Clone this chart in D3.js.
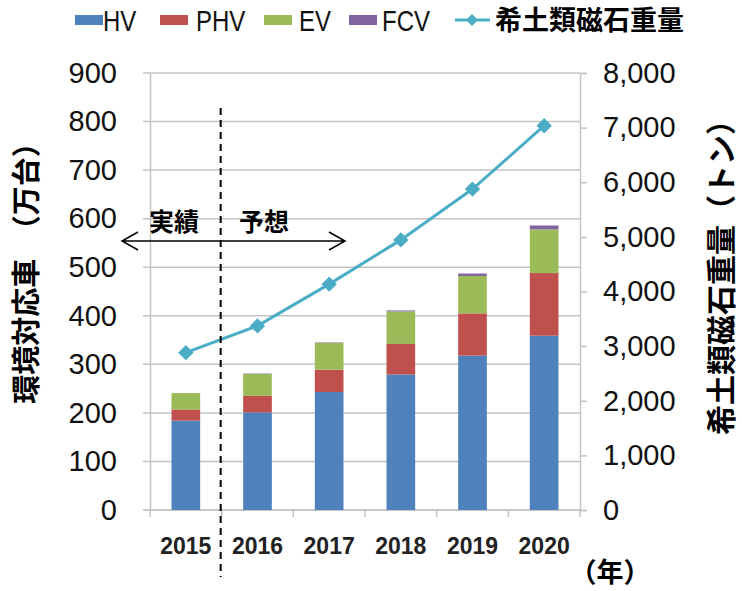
<!DOCTYPE html>
<html>
<head>
<meta charset="utf-8">
<script src="https://cdn.jsdelivr.net/npm/d3@7"></script>
<style>
  body { margin: 0; background: #fff; }
  svg { font-family: "Liberation Sans", Arial, sans-serif; }
  .jp { font-family: "Noto Sans CJK JP", sans-serif; font-weight: 700; }
</style>
</head>
<body>
<div class="chart"></div>
<script>
// ===== data =====
const years = ['2015', '2016', '2017', '2018', '2019', '2020']
const hv  = [184, 201, 243, 279, 318, 359]
const phv = [23, 34, 46, 63, 87, 129]
const ev  = [34, 45, 55, 67, 77, 90]
const fcv = [0, 1, 1, 2, 5, 8]
const magnet = [2880, 3370, 4135, 4945, 5875, 7035]   // トン
const leftTicks = [0, 100, 200, 300, 400, 500, 600, 700, 800, 900]
const rightTicks = [0, 1000, 2000, 3000, 4000, 5000, 6000, 7000, 8000]

const series = [
  {key: 'HV',  values: hv,  color: '#4f81bd'},
  {key: 'PHV', values: phv, color: '#c0504d'},
  {key: 'EV',  values: ev,  color: '#9bbb59'},
  {key: 'FCV', values: fcv, color: '#8064a2'}
]
const lineColor = '#4bacc6'

const W = 742, H = 591
const plot = {left: 150, right: 580, top: 73, bottom: 510}

const svg = d3.select('.chart')
  .append('svg')
    .attr('width', W)
    .attr('height', H)

const x = d3.scaleBand()
  .domain(years)
  .range([plot.left, plot.right])
  .paddingInner(0.6)
  .paddingOuter(0.3)
const xOuter = d3.scaleBand().domain(years).range([plot.left, plot.right])

const yL = d3.scaleLinear().domain([0, 900]).range([plot.bottom, plot.top])
const yR = d3.scaleLinear().domain([0, 8000]).range([plot.bottom, plot.top])

// grid
svg.append('g')
  .selectAll('line')
  .data(leftTicks)
  .join('line')
    .attr('x1', plot.left - 7)
    .attr('x2', plot.right)
    .attr('y1', d => yL(d))
    .attr('y2', d => yL(d))
    .attr('stroke', '#c4c4c4')
    .attr('stroke-width', 1.5)

// left axis
const gL = svg.append('g')
  .attr('transform', `translate(${plot.left}, 0)`)
  .call(d3.axisLeft(yL).tickValues(leftTicks).tickSize(0).tickPadding(33))
gL.select('.domain').attr('stroke', '#c4c4c4').attr('stroke-width', 1.5)
gL.selectAll('text').attr('font-size', 29).attr('fill', '#111')

// right axis
const gR = svg.append('g')
  .attr('transform', `translate(${plot.right}, 0)`)
  .call(d3.axisRight(yR).tickValues(rightTicks).tickSize(7).tickPadding(16)
    .tickFormat(d3.format(',')))
gR.select('.domain').attr('stroke', '#c4c4c4').attr('stroke-width', 1.5)
gR.selectAll('line').attr('stroke', '#c4c4c4').attr('stroke-width', 1.5)
gR.selectAll('text').attr('font-size', 29).attr('fill', '#111')

// bottom axis
svg.append('line')
  .attr('x1', plot.left - 7).attr('x2', plot.right)
  .attr('y1', plot.bottom).attr('y2', plot.bottom)
  .attr('stroke', '#c4c4c4').attr('stroke-width', 1.5)
svg.append('g')
  .selectAll('line')
  .data(years.concat(['end']))
  .join('line')
    .attr('x1', (d, i) => plot.left + i * xOuter.step())
    .attr('x2', (d, i) => plot.left + i * xOuter.step())
    .attr('y1', plot.bottom)
    .attr('y2', plot.bottom + 7)
    .attr('stroke', '#c4c4c4')
    .attr('stroke-width', 1.5)
svg.append('g')
  .selectAll('text')
  .data(years)
  .join('text')
    .attr('x', d => xOuter(d) + xOuter.bandwidth() / 2)
    .attr('y', 554)
    .attr('text-anchor', 'middle')
    .attr('font-size', 23)
    .attr('font-weight', 700)
    .attr('fill', '#222')
    .text(d => d)

// stacked bars
const table = years.map((y, i) => {
  const row = {year: y}
  series.forEach(s => { row[s.key] = s.values[i] })
  return row
})
const stacked = d3.stack().keys(series.map(s => s.key))(table)

svg.append('g')
  .selectAll('g')
  .data(stacked)
  .join('g')
    .attr('fill', (d, i) => series[i].color)
  .selectAll('rect')
  .data(d => d)
  .join('rect')
    .attr('x', d => x(d.data.year))
    .attr('width', x.bandwidth())
    .attr('y', d => yL(d[1]))
    .attr('height', d => yL(d[0]) - yL(d[1]))

// magnet line
const cx = d => xOuter(d) + xOuter.bandwidth() / 2
svg.append('path')
  .datum(magnet)
  .attr('fill', 'none')
  .attr('stroke', lineColor)
  .attr('stroke-width', 3)
  .attr('d', d3.line().x((d, i) => cx(years[i])).y(d => yR(d)))

const diamond = d3.symbol().type(d3.symbolDiamond2).size(150)
svg.append('g')
  .selectAll('path')
  .data(magnet)
  .join('path')
    .attr('transform', (d, i) => `translate(${cx(years[i])}, ${yR(d)})`)
    .attr('d', diamond)
    .attr('fill', lineColor)

// dashed divider between 実績 and 予想
const divX = plot.left + xOuter.step()
svg.append('line')
  .attr('x1', divX - 1).attr('x2', divX - 1)
  .attr('y1', 108).attr('y2', 577)
  .attr('stroke', '#000')
  .attr('stroke-width', 2)
  .attr('stroke-dasharray', '7,5')

// double arrow
const arrowY = 241
svg.append('path')
  .attr('d', `M122,${arrowY}H345 M138,${arrowY - 9}L122,${arrowY}L138,${arrowY + 9} M329,${arrowY - 9}L345,${arrowY}L329,${arrowY + 9}`)
  .attr('fill', 'none')
  .attr('stroke', '#000')
  .attr('stroke-width', 1.5)
svg.append('text').attr('class', 'jp')
  .attr('x', 174).attr('y', 231).attr('text-anchor', 'middle')
  .attr('font-size', 25).text('実績')
svg.append('text').attr('class', 'jp')
  .attr('x', 264).attr('y', 231).attr('text-anchor', 'middle')
  .attr('font-size', 25).text('予想')

// axis titles
svg.append('text').attr('class', 'jp')
  .attr('transform', 'translate(37, 266) rotate(-90)')
  .attr('text-anchor', 'middle')
  .attr('font-size', 29)
  .text('環境対応車　（万台）')
svg.append('text').attr('class', 'jp')
  .attr('transform', 'translate(732, 270) rotate(-90)')
  .attr('text-anchor', 'middle')
  .attr('font-size', 30)
  .text('希土類磁石重量（トン）')
svg.append('text').attr('class', 'jp')
  .attr('x', 610).attr('y', 582).attr('text-anchor', 'middle')
  .attr('font-size', 27)
  .text('（年）')

// legend
const legendItems = [
  {label: 'HV',  color: series[0].color, sx: 75,  tx: 103},
  {label: 'PHV', color: series[1].color, sx: 160, tx: 196},
  {label: 'EV',  color: series[2].color, sx: 264, tx: 299},
  {label: 'FCV', color: series[3].color, sx: 349, tx: 382}
]
const lg = svg.append('g')
legendItems.forEach(d => {
  lg.append('rect')
    .attr('x', d.sx).attr('y', 15).attr('width', 28).attr('height', 10)
    .attr('fill', d.color)
  lg.append('text')
    .attr('transform', `translate(${d.tx}, 31) scale(0.8, 1)`)
    .attr('font-size', 30)
    .attr('fill', '#111')
    .text(d.label)
})
lg.append('line')
  .attr('x1', 455).attr('x2', 490).attr('y1', 20).attr('y2', 20)
  .attr('stroke', lineColor).attr('stroke-width', 3)
lg.append('path')
  .attr('transform', 'translate(472, 20)')
  .attr('d', d3.symbol().type(d3.symbolDiamond2).size(90))
  .attr('fill', lineColor)
lg.append('text').attr('class', 'jp')
  .attr('x', 495).attr('y', 30)
  .attr('font-size', 27)
  .text('希土類磁石重量')
</script>
</body>
</html>
